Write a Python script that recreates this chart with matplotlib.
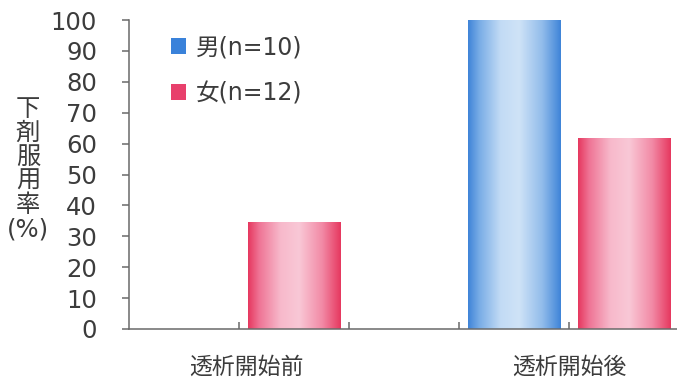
import numpy as np
import matplotlib.pyplot as plt
from matplotlib.colors import LinearSegmentedColormap
from matplotlib.patches import Patch

# data
categories = ['透析開始前', '透析開始後']
male = [0, 100]
female = [34.4, 61.7]
legend_labels = ['男(n=10)', '女(n=12)']
y_ticks = list(range(0, 101, 10))
y_label_parts = ['下', '剤', '服', '用', '率', '(%)']

plt.rcParams['font.family'] = ['DejaVu Sans', 'Noto Sans CJK JP']
text_color = '#3c3c3c'
axis_color = '#6a6a6a'

# colours: solid (legend) and gradient for the bars
blue_solid = '#3a82da'
pink_solid = '#e8406c'
blue_cmap = LinearSegmentedColormap.from_list(
    'blue', [(0, '#3f84d8'), (0.12, '#78ace6'), (0.35, '#c2dbf5'), (0.55, '#cfe3f7'),
             (0.8, '#92bceb'), (1, '#3f84d8')])
pink_cmap = LinearSegmentedColormap.from_list(
    'pink', [(0, '#e6385f'), (0.12, '#ef7495'), (0.35, '#f7b9cb'), (0.55, '#f9c8d6'),
             (0.8, '#f28aa6'), (1, '#e6385f')])

fig = plt.figure(figsize=(6.77, 3.8), dpi=100)
ax = fig.add_axes([129 / 677, 51 / 380, 548 / 677, 309 / 380])

group_x = np.array([1.0, 4.0])
width = 0.845
bars_m = ax.bar(group_x - 0.5, male, width, color='none', label=legend_labels[0])
bars_f = ax.bar(group_x + 0.5, female, width, color='none', label=legend_labels[1])

grad = np.linspace(0, 1, 256).reshape(1, -1)
for bars, cmap in [(bars_m, blue_cmap), (bars_f, pink_cmap)]:
    for b in bars:
        if b.get_height() <= 0:
            continue
        x0 = b.get_x()
        ax.imshow(grad, cmap=cmap, aspect='auto', zorder=2,
                  extent=[x0, x0 + b.get_width(), 0, b.get_height()])

ax.set_xlim(0, 548 / 110)
ax.set_ylim(0, 100)

# spines
for s in ['top', 'right']:
    ax.spines[s].set_visible(False)
for s in ['left', 'bottom']:
    ax.spines[s].set_color(axis_color)
    ax.spines[s].set_linewidth(1.1)

# y axis
ax.set_yticks(y_ticks)
ax.tick_params(axis='y', direction='out', length=5, width=1.1, color=axis_color,
               pad=18, labelsize=17.5, labelcolor=text_color)

# x axis: labels under the groups, small inward ticks between bars
ax.xaxis.remove_overlapping_locs = False
ax.set_xticks(group_x + [0.07, 0])
ax.set_xticklabels(categories)
ax.set_xticks([1, 2, 3, 4], minor=True)
ax.tick_params(axis='x', which='major', length=0, pad=19, labelsize=16.5,
               labelcolor=text_color)
ax.tick_params(axis='x', which='minor', direction='in', length=5, width=1.1,
               color=axis_color)

# stacked vertical y label, one character per line
for i, part in enumerate(y_label_parts):
    fig.text(28 / 677, 1 - (109 + 24 * i) / 380, part, ha='center', va='center',
             fontsize=17.5, color=text_color)

handles = [Patch(facecolor=blue_solid), Patch(facecolor=pink_solid)]
ax.legend(handles, legend_labels, loc='upper left',
          bbox_to_anchor=(171 / 677, 1 - 35 / 380), bbox_transform=fig.transFigure,
          frameon=False, fontsize=17, handlelength=0.65, handleheight=0.65,
          handletextpad=0.4, labelspacing=0.95, borderpad=0, borderaxespad=0,
          labelcolor=text_color)

fig.savefig('out.png', dpi=100)
